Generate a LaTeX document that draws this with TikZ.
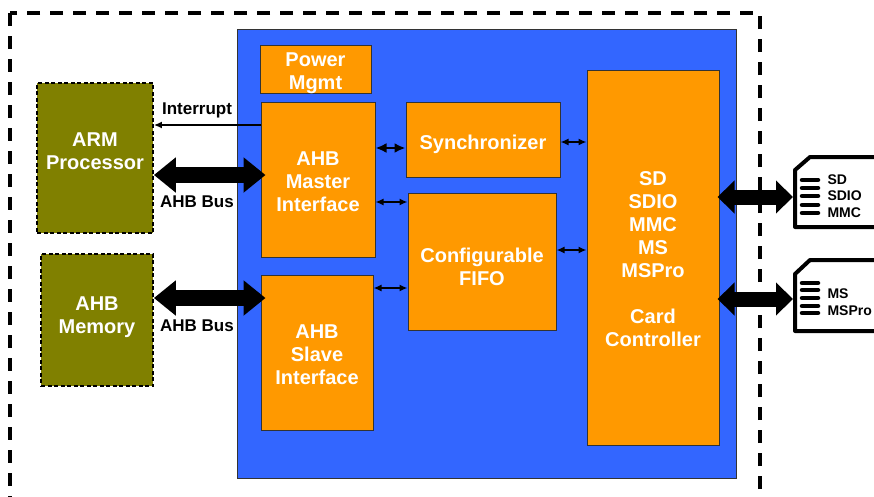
\documentclass[tikz,border=0pt]{standalone}
\usepackage{fontspec}
\setmainfont{Liberation Sans}
\usetikzlibrary{arrows.meta}
\definecolor{coreblue}{HTML}{3366FF}
\definecolor{unitorange}{HTML}{FF9900}
\definecolor{hostolive}{HTML}{808000}
\begin{document}
\begin{tikzpicture}[x=1pt, y=-1pt, line width=1pt,
    unit/.style 2 args={draw=black!80, fill=unitorange, inner sep=0pt, label={[unittext, yshift=#2]center:#1}},
    unittext/.style={text=white, align=center, font=\fontsize{20}{23}\selectfont\bfseries},
    host/.style={draw=black, fill=hostolive, line width=1.8pt, dash pattern=on 4pt off 2.5pt},
    hosttext/.style={text=white, align=center, font=\fontsize{20}{23}\selectfont\bfseries},
    sig/.style={font=\fontsize{17}{20}\selectfont\bfseries},
    bus/.style={line width=16pt, {Triangle[length=22pt,width=34pt]}-{Triangle[length=22pt,width=34pt]}},
    slot/.style={line width=15pt, {Triangle[length=17pt,width=32pt]}-{Triangle[length=17pt,width=32pt]}},
    link/.style={line width=1.5pt, {Latex[length=8pt,width=7pt]}-{Latex[length=8pt,width=7pt]}},
    cardbody/.style={draw=black, fill=white, line width=4pt, line join=round},
    cardpin/.style={line width=4.5pt, line cap=round},
    cardtext/.style={anchor=west, align=left, inner sep=0pt, font=\fontsize{14}{16.5}\selectfont\bfseries}]
    \clip (0,0) rectangle (874,496);

    % chip frame and core
    \draw[line width=3.5pt, dash pattern=on 13pt off 10pt] (10,13) rectangle (760,520);
    \node[draw=black!80, fill=coreblue, minimum width=499pt, minimum height=449pt] (core) at (486.5,253.5) {};

    \node[unit={Power\\Mgmt}{-4pt}, minimum width=111pt, minimum height=48pt] (pwr) at (315.5,69) {};
    \node[unit={AHB\\Master\\Interface}{-2pt}, minimum width=114pt, minimum height=155pt] (master) at (318,179.5) {};
    \node[unit={AHB\\Slave\\Interface}{-2pt}, minimum width=112pt, minimum height=155pt] (slave) at (317,352.5) {};
    \node[unit={Synchronizer}{-5pt}, minimum width=154pt, minimum height=75pt] (sync) at (483,139.5) {};
    \node[unit={Configurable\\FIFO}{-5pt}, minimum width=148pt, minimum height=137pt] (fifo) at (482,261.5) {};
    \node[unit={SD\\SDIO\\MMC\\MS\\MSPro\\[23pt]Card\\Controller}{-2pt}, minimum width=132pt, minimum height=375pt] (card) at (653,257.5) {};

    % host side
    \node[host, minimum width=116pt, minimum height=150pt] (arm) at (95,158) {};
    \node[hosttext] (armlabel) at (95,151) {ARM\\Processor};
    \node[host, minimum width=112pt, minimum height=132pt] (mem) at (97,320) {};
    \node[hosttext] (memlabel) at (97,317) {AHB\\Memory};

    \draw[line width=1.5pt, -{Latex[length=8pt,width=7pt]}] (master.west |- 0,125) -- (arm.east |- 0,125);
    \node[sig] (irq) at (197,110) {Interrupt};
    \draw[bus, shorten >=-5pt] (arm.east |- 0,175) -- (master.west |- 0,175);
    \node[sig] (busa) at (197,202) {AHB Bus};
    \draw[bus, shorten >=-5pt] (mem.east |- 0,298) -- (slave.west |- 0,298);
    \node[sig] (busb) at (197,326) {AHB Bus};

    % internal links
    \draw[link, line width=2.5pt, {Latex[length=11pt,width=10pt]}-{Latex[length=11pt,width=10pt]}]
          (master.east |- 0,148) -- (sync.west |- 0,148);
    \draw[link] (sync.east |- 0,142) -- (card.west |- 0,142);
    \draw[link] (master.east |- 0,202) -- (fifo.west |- 0,202);
    \draw[link] (fifo.east |- 0,250) -- (card.west |- 0,250);
    \draw[link] (slave.east |- 0,288) -- (fifo.west |- 0,288);

    % memory cards
    \coordinate (sd) at (793,197);
    \coordinate (ms) at (793,299);
    \draw[cardbody] (795,170) -- (810,157) -- (880,157) -- (880,227) -- (795,227) -- cycle;
    \foreach \y in {180,188,196,205,213} \draw[cardpin] (802,\y) -- (818,\y);
    \node[cardtext] (sdlabel) at (827,196) {SD\\SDIO\\MMC};
    \draw[cardbody] (795,274) -- (810,260) -- (880,260) -- (880,331) -- (795,331) -- cycle;
    \foreach \y in {283,290,298,306,313} \draw[cardpin] (802,\y) -- (818,\y);
    \node[cardtext] (mslabel) at (827,302) {MS\\MSPro};
    \draw[slot, shorten <=-2pt] (card.east |- sd) -- (sd);
    \draw[slot, shorten <=-2pt] (card.east |- ms) -- (ms);
\end{tikzpicture}
\end{document}
